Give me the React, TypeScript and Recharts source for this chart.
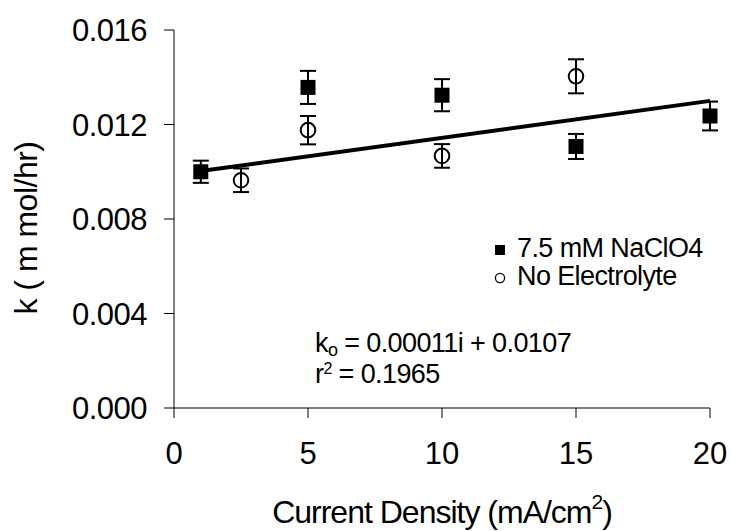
import {
  ScatterChart,
  Scatter,
  XAxis,
  YAxis,
  ErrorBar,
  Legend,
  Customized,
} from "recharts";

const FONT = "'Liberation Sans', Arial, sans-serif";

// 7.5 mM NaClO4 series
const naclX = [1, 5, 10, 15, 20];
const naclK = [0.01, 0.01357, 0.01324, 0.01107, 0.01236];
const naclErr = [0.00047, 0.0007, 0.00068, 0.00053, 0.00061];

// no electrolyte series
const noElX = [2.5, 5, 10, 15];
const noElK = [0.00964, 0.01176, 0.01067, 0.01404];
const noElErr = [0.0005, 0.0006, 0.0005, 0.00072];

// fitted line as drawn
const fitX = [1, 20];
const fitK = [0.01003, 0.013];

const xTicks = [0, 5, 10, 15, 20];
const yTicks = [0, 0.004, 0.008, 0.012, 0.016];

const nacl = naclX.map((x, i) => ({ x, k: naclK[i], err: naclErr[i] }));
const noEl = noElX.map((x, i) => ({ x, k: noElK[i], err: noElErr[i] }));
const fit = fitX.map((x, i) => ({ x, k: fitK[i] }));

const Square = (props: any) => {
  const { cx, cy } = props;
  return <rect x={cx - 7.5} y={cy - 7.5} width={15} height={15} fill="#000" />;
};

const Ring = (props: any) => {
  const { cx, cy } = props;
  return <circle cx={cx} cy={cy} r={7.3} fill="none" stroke="#000" strokeWidth={2} />;
};

const LegendBox = () => (
  <div style={{ fontFamily: FONT, fontSize: 27, color: "#000", letterSpacing: -0.6 }}>
    <div style={{ position: "relative", height: 28, lineHeight: "28px", whiteSpace: "nowrap" }}>
      <svg width={10} height={10} style={{ position: "absolute", left: 0, top: 11 }}>
        <rect x={0} y={0} width={10} height={10} fill="#000" />
      </svg>
      <span style={{ position: "absolute", left: 22, top: 0 }}>7.5 mM NaClO4</span>
    </div>
    <div style={{ position: "relative", height: 28, lineHeight: "28px", whiteSpace: "nowrap" }}>
      <svg width={12} height={12} style={{ position: "absolute", left: -1, top: 10 }}>
        <circle cx={6} cy={6} r={4.6} fill="none" stroke="#000" strokeWidth={1.3} />
      </svg>
      <span style={{ position: "absolute", left: 22, top: 0 }}>No Electrolyte</span>
    </div>
  </div>
);

const Equation = () => (
  <g fontFamily={FONT} fill="#000" letterSpacing={-0.6}>
    <text x={315} y={352} fontSize={27}>
      k<tspan fontSize={18} dy={4}>o</tspan>
      <tspan dy={-4}> = 0.00011i + 0.0107</tspan>
    </text>
    <text x={315} y={383} fontSize={27}>
      r<tspan fontSize={16} dy={-9}>2</tspan>
      <tspan dy={9}> = 0.1965</tspan>
    </text>
  </g>
);

const XTitle = (props: any) => {
  const { viewBox } = props;
  const cx = viewBox.x + viewBox.width / 2;
  return (
    <text x={cx} y={523} textAnchor="middle" fontFamily={FONT} fontSize={32} fill="#000" letterSpacing={-1}>
      Current Density (mA/cm<tspan fontSize={21} dy={-14}>2</tspan>
      <tspan dy={14}>)</tspan>
    </text>
  );
};

const YTitle = () => (
  <text
    transform="translate(37, 228) rotate(-90)"
    x={0}
    y={0}
    textAnchor="middle"
    fontFamily={FONT}
    fontSize={32}
    fill="#000"
    letterSpacing={-0.5}
  >
    k ( m mol/hr)
  </text>
);

export default function App() {
  return (
    <div style={{ position: "absolute", left: 0, top: 0, background: "#fff" }}>
      <ScatterChart width={731} height={531} margin={{ top: 30, right: 21, bottom: 63, left: 0 }}>
        <XAxis
          type="number"
          dataKey="x"
          domain={[0, 20]}
          ticks={xTicks}
          height={60}
          tickSize={10}
          tickMargin={24}
          axisLine={{ stroke: "#000" }}
          tickLine={{ stroke: "#000" }}
          tick={{ fill: "#000", fontSize: 31, fontFamily: FONT }}
          label={{ content: XTitle }}
        />
        <YAxis
          type="number"
          dataKey="k"
          domain={[0, 0.016]}
          ticks={yTicks}
          width={174}
          tickSize={10}
          tickMargin={17}
          tickFormatter={(v: number) => v.toFixed(3)}
          axisLine={{ stroke: "#000" }}
          tickLine={{ stroke: "#000" }}
          tick={{ fill: "#000", fontSize: 31, fontFamily: FONT, letterSpacing: -0.5 }}
        />
        <Scatter
          name="fit"
          data={fit}
          line={{ stroke: "#000", strokeWidth: 4 }}
          shape={() => <g />}
          legendType="none"
          isAnimationActive={false}
        />
        <Scatter name="7.5 mM NaClO4" data={nacl} shape={Square} isAnimationActive={false}>
          <ErrorBar dataKey="err" direction="y" width={8} stroke="#000" strokeWidth={2} />
        </Scatter>
        <Scatter name="No Electrolyte" data={noEl} shape={Ring} isAnimationActive={false}>
          <ErrorBar dataKey="err" direction="y" width={8} stroke="#000" strokeWidth={2} />
        </Scatter>
        <Legend
          layout="vertical"
          align="center"
          verticalAlign="middle"
          content={LegendBox}
          wrapperStyle={{ left: 495, top: 234, width: 230 }}
        />
        <Customized component={Equation} />
        <Customized component={YTitle} />
      </ScatterChart>
    </div>
  );
}
